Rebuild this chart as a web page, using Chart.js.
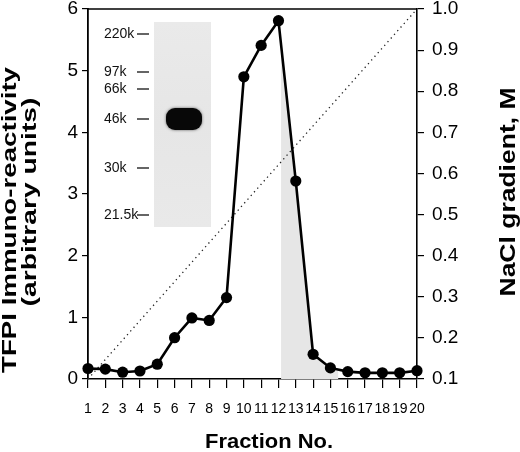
<!DOCTYPE html>
<html><head><meta charset="utf-8">
<script src="https://cdn.jsdelivr.net/npm/chart.js@4/dist/chart.umd.min.js"></script>
<style>html,body{margin:0;padding:0;background:#fff}#wrap{width:520px;height:452px;position:relative}</style>
</head><body><div id="wrap"><canvas id="c"></canvas></div>
<script>
// ---- data ----
const fractions = [1,2,3,4,5,6,7,8,9,10,11,12,13,14,15,16,17,18,19,20];
const tfpiValues = [0.17,0.16,0.11,0.13,0.24,0.67,0.99,0.95,1.32,4.90,5.41,5.81,3.21,0.40,0.18,0.12,0.10,0.10,0.10,0.135];
const gradientFractions = [1,20];
const gradientMolar = [0.1,1.0];
const xTickValues = [1,2,3,4,5,6,7,8,9,10,11,12,13,14,15,16,17,18,19,20];
const leftTickValues = [0,1,2,3,4,5,6];
const rightTickValues = [0.1,0.2,0.3,0.4,0.5,0.6,0.7,0.8,0.9,1.0];
const shadeRange = [12.15, 15.45];
const gelMarkerLabels = ['220k','97k','66k','46k','30k','21.5k'];
const leftTitle = ['TFPI Immuno-reactivity','(arbitrary units)'];
const rightTitle = 'NaCl gradient, M';
const xTitle = 'Fraction No.';

const FONT = '"Liberation Sans", Arial, Helvetica, sans-serif';

function stretchedText(ctx, text, x, y, rot, size, targetLen, baseline) {
  ctx.save();
  ctx.font = 'bold ' + size + 'px ' + FONT;
  const w = ctx.measureText(text).width;
  const sx = targetLen ? targetLen / w : 1;
  ctx.translate(x, y);
  ctx.rotate(rot);
  ctx.scale(sx, 1);
  ctx.fillStyle = '#000';
  ctx.textAlign = 'center';
  ctx.textBaseline = baseline || 'alphabetic';
  ctx.fillText(text, 0, 0);
  ctx.restore();
}

const decorPlugin = {
  id: 'decor',
  beforeDatasetsDraw(chart) {
    const ctx = chart.ctx, xs = chart.scales.x, ys = chart.scales.y;
    const a = chart.chartArea;
    // shaded region under the curve
    ctx.save();
    const x0 = xs.getPixelForValue(shadeRange[0]);
    const x1 = xs.getPixelForValue(shadeRange[1]);
    ctx.beginPath();
    ctx.rect(x0, a.top, x1 - x0, a.bottom - a.top);
    ctx.clip();
    ctx.beginPath();
    ctx.moveTo(xs.getPixelForValue(fractions[0]), ys.getPixelForValue(0));
    for (let i = 0; i < fractions.length; i++) {
      ctx.lineTo(xs.getPixelForValue(fractions[i]), ys.getPixelForValue(tfpiValues[i]));
    }
    ctx.lineTo(xs.getPixelForValue(fractions[fractions.length-1]), ys.getPixelForValue(0));
    ctx.closePath();
    ctx.fillStyle = '#e6e6e6';
    ctx.fill();
    ctx.restore();

    // gel inset
    const L = a.left, T = a.top;
    ctx.save();
    const gx = L + 66, gy = T + 13, gw = 57, gh = 205;
    const grad = ctx.createLinearGradient(gx, gy, gx, gy + gh);
    grad.addColorStop(0, '#eaeaea');
    grad.addColorStop(0.5, '#e6e6e6');
    grad.addColorStop(1, '#e9e9e9');
    ctx.fillStyle = grad;
    ctx.fillRect(gx, gy, gw, gh);
    // band
    ctx.shadowColor = 'rgba(0,0,0,0.6)';
    ctx.shadowBlur = 3;
    ctx.fillStyle = '#080808';
    ctx.beginPath();
    ctx.roundRect(L + 78, T + 99, 36, 22, 9);
    ctx.fill();
    ctx.shadowBlur = 0;
    // marker labels
    const my = [25, 63, 80, 110, 159, 206];
    ctx.font = '14px ' + FONT;
    ctx.fillStyle = '#111';
    ctx.textAlign = 'left';
    ctx.textBaseline = 'middle';
    ctx.strokeStyle = '#111';
    ctx.lineWidth = 1.3;
    for (let i = 0; i < gelMarkerLabels.length; i++) {
      ctx.fillText(gelMarkerLabels[i], L + 16, T + my[i] + 0.5);
      ctx.beginPath();
      ctx.moveTo(L + 49, T + my[i]);
      ctx.lineTo(L + 61, T + my[i]);
      ctx.stroke();
    }
    ctx.restore();
  },
  afterDraw(chart) {
    const ctx = chart.ctx, a = chart.chartArea;
    // top frame line
    ctx.save();
    ctx.strokeStyle = '#000';
    ctx.lineWidth = 1.5;
    ctx.beginPath();
    ctx.moveTo(a.left, a.top);
    ctx.lineTo(a.right, a.top);
    ctx.stroke();
    ctx.restore();
    // titles
    stretchedText(ctx, leftTitle[0], 16, 220, -Math.PI/2, 21, 306);
    stretchedText(ctx, leftTitle[1], 36, 202, -Math.PI/2, 21, 209);
    stretchedText(ctx, rightTitle, 515, 192, -Math.PI/2, 22, 209);
    stretchedText(ctx, xTitle, 269, 448, 0, 19.5, 128);
  }
};

const ctx = document.getElementById('c').getContext('2d');
new Chart(ctx, {
  type: 'scatter',
  data: {
    datasets: [
      {
        label: 'TFPI',
        data: fractions.map((f, i) => ({x: f, y: tfpiValues[i]})),
        yAxisID: 'y',
        showLine: true,
        borderColor: '#000',
        borderWidth: 2.6,
        pointRadius: 5.6,
        pointHoverRadius: 5.6,
        pointBackgroundColor: '#000',
        pointBorderColor: '#000',
        pointBorderWidth: 0,
        clip: false,
        order: 1
      },
      {
        label: 'NaCl',
        data: gradientFractions.map((f, i) => ({x: f, y: gradientMolar[i]})),
        yAxisID: 'y2',
        showLine: true,
        borderColor: '#222',
        borderWidth: 1.3,
        borderDash: [1.3, 3.6],
        pointRadius: 0,
        clip: false,
        order: 2
      }
    ]
  },
  options: {
    responsive: true,
    maintainAspectRatio: false,
    animation: false,
    devicePixelRatio: 1,
    layout: {padding: {top: 9, left: 0, right: 0, bottom: 0}},
    plugins: {legend: {display: false}, tooltip: {enabled: false}},
    scales: {
      x: {
        type: 'linear', position: 'bottom', min: 1, max: 20,
        afterBuildTicks: s => { s.ticks = xTickValues.map(v => ({value: v})); },
        afterFit: s => { s.height = 73; },
        ticks: {autoSkip: false, maxRotation: 0, minRotation: 0, color: '#000',
                font: {family: FONT, size: 14}, padding: 13},
        grid: {drawOnChartArea: false, drawTicks: true, tickLength: 9, color: '#000', lineWidth: 1.2},
        border: {display: true, color: '#000', width: 1.6},
        title: {display: false}
      },
      y: {
        type: 'linear', position: 'left', min: 0, max: 6,
        afterBuildTicks: s => { s.ticks = leftTickValues.map(v => ({value: v})); },
        afterFit: s => { s.width = 88; },
        ticks: {color: '#000', font: {family: FONT, size: 19, lineHeight: 0.01}, padding: 4},
        grid: {drawOnChartArea: false, drawTicks: true, tickLength: 6, color: '#000', lineWidth: 1.2},
        border: {display: true, color: '#000', width: 1.8},
        title: {display: false}
      },
      y2: {
        type: 'linear', position: 'right', min: 0.1, max: 1.0,
        afterBuildTicks: s => { s.ticks = rightTickValues.map(v => ({value: v})); },
        afterFit: s => { s.width = 103; },
        ticks: {color: '#000', font: {family: FONT, size: 19, lineHeight: 0.01}, padding: 8,
                callback: v => Number(v).toFixed(1)},
        grid: {drawOnChartArea: false, drawTicks: true, tickLength: 7, color: '#000', lineWidth: 1.2},
        border: {display: true, color: '#000', width: 1.6},
        title: {display: false}
      }
    }
  },
  plugins: [decorPlugin]
});
</script>
</body></html>
